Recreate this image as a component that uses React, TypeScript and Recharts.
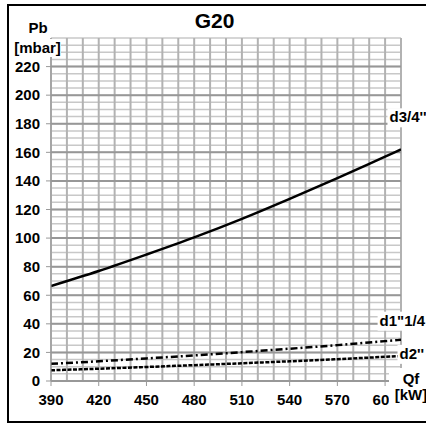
import { LineChart, Line, XAxis, YAxis, CartesianGrid, ReferenceDot } from 'recharts';

const font = '"Liberation Sans", Arial, sans-serif';

// flow rate Qf [kW]
const qf = [390, 420, 450, 480, 510, 540, 570, 600, 610];
// pressure drop Pb [mbar] for each connection size
const d34 = [66.5, 77, 88.5, 100.5, 113.5, 127.5, 142, 157, 162];
const d114 = [12, 13.8, 15.8, 17.9, 20.2, 22.6, 25.1, 27.9, 28.8];
const d2 = [7.5, 8.6, 9.8, 11.1, 12.4, 13.8, 15.3, 16.9, 17.4];

const xTicks = [390, 420, 450, 480, 510, 540, 570, 600];
const yTicks = [0, 20, 40, 60, 80, 100, 120, 140, 160, 180, 200, 220];

// grid lines
const xGrid = Array.from({ length: 23 }, (_, i) => 390 + i * 10);
const yMinor = Array.from({ length: 49 }, (_, i) => i * 5);
const yMajor = Array.from({ length: 12 }, (_, i) => i * 20);

const data = qf.map((q, i) => ({ qf: q, d34: d34[i], d114: d114[i], d2: d2[i] }));

// label anchors: x = left edge of white box, y = text baseline
const seriesLabels = [
  { text: "d3/4''", x: 601.5, y: 181 },
  { text: 'd1"1/4', x: 595.3, y: 38.7 },
  { text: "d2''", x: 607.8, y: 15.5 },
];

const boxLabel = (text: string) => (props: any) => {
  const vb = props.viewBox || {};
  const x = vb.x + (vb.width || 0) / 2;
  const y = vb.y + (vb.height || 0) / 2;
  return (
    <g>
      <rect x={x} y={y - 14} width={60} height={19} fill="#fff" />
      <text x={x + 2} y={y} fontFamily={font} fontWeight="bold" fontSize={15} fill="#000">
        {text}
      </text>
    </g>
  );
};

export default function App() {
  const tick = { fill: '#000', fontSize: 15, fontWeight: 'bold', fontFamily: font };
  return (
    <div style={{ position: 'absolute', left: 0, top: 0, width: 426, height: 425, overflow: 'hidden', background: '#fff' }}>
      <div
        style={{
          position: 'absolute',
          left: 7,
          top: 4,
          width: 440,
          height: 419,
          border: '2px solid #000',
          boxSizing: 'border-box',
        }}
      >
        <LineChart width={436} height={415} data={data} margin={{ top: 32, right: 44, left: 12, bottom: 10 }}>
          <CartesianGrid horizontalValues={yMinor} vertical={false} stroke="#c8c8c8" strokeWidth={1.5} />
          <CartesianGrid verticalValues={xGrid} horizontal={false} stroke="#b2b2b2" strokeWidth={2} />
          <CartesianGrid horizontalValues={yMajor} vertical={false} stroke="#979797" strokeWidth={2} />
          <XAxis
            dataKey="qf"
            type="number"
            domain={[390, 610]}
            ticks={xTicks}
            interval={0}
            allowDataOverflow
            height={30}
            tickSize={5}
            tickMargin={8}
            stroke="#999"
            tick={tick}
          />
          <YAxis
            type="number"
            domain={[0, 240]}
            ticks={yTicks}
            interval={0}
            allowDataOverflow
            width={30}
            tickSize={5}
            tickMargin={6}
            stroke="#999"
            tick={tick}
          />
          <Line type="monotone" dataKey="d34" stroke="#000" strokeWidth={2.5} dot={false} isAnimationActive={false} />
          <Line
            type="monotone"
            dataKey="d114"
            stroke="#000"
            strokeWidth={2.5}
            strokeDasharray="7 3 2 3"
            dot={false}
            isAnimationActive={false}
          />
          <Line
            type="monotone"
            dataKey="d2"
            stroke="#000"
            strokeWidth={2.5}
            strokeDasharray="4 1.5"
            dot={false}
            isAnimationActive={false}
          />
          {seriesLabels.map((l) => (
            <ReferenceDot
              key={l.text}
              x={l.x}
              y={l.y}
              r={0}
              fill="none"
              stroke="none"
              ifOverflow="visible"
              label={boxLabel(l.text)}
            />
          ))}
        </LineChart>
      </div>
      <svg width={426} height={425} style={{ position: 'absolute', left: 0, top: 0, pointerEvents: 'none' }}>
        <text x={214.5} y={28} textAnchor="middle" fontFamily={font} fontWeight="bold" fontSize={21}>
          G20
        </text>
        <text x={38} y={33} textAnchor="middle" fontFamily={font} fontWeight="bold" fontSize={15}>
          Pb
        </text>
        <rect x={13} y={39} width={48} height={18} fill="#fff" />
        <text x={37.5} y={53} textAnchor="middle" fontFamily={font} fontWeight="bold" fontSize={15}>
          [mbar]
        </text>
        <rect x={389} y={368} width={40} height={42} fill="#fff" />
        <text x={411} y={384} textAnchor="middle" fontFamily={font} fontWeight="bold" fontSize={15}>
          Qf
        </text>
        <text x={411} y={400} textAnchor="middle" fontFamily={font} fontWeight="bold" fontSize={15}>
          [kW]
        </text>
      </svg>
    </div>
  );
}
